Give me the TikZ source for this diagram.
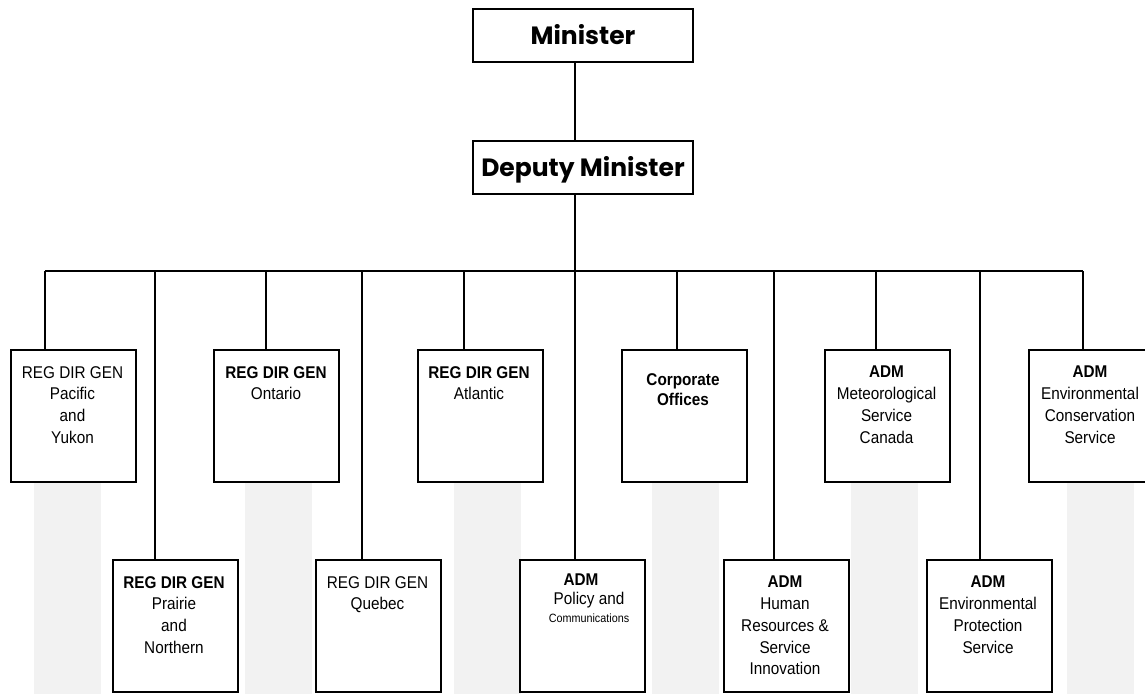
\documentclass[tikz,border=0pt]{standalone}
\usepackage{fontspec}
\setmainfont{Liberation Sans}[FakeStretch=0.9]
\newfontfamily\headfont{Poppins}
\definecolor{shade}{HTML}{F2F2F2}
\begin{document}
\begin{tikzpicture}[x=1pt,y=-1pt,
  box/.style={draw, line width=2pt, fill=white, minimum width=125pt, minimum height=132pt, inner sep=0pt, anchor=north west},
  headbox/.style={draw, line width=2pt, fill=white, minimum width=220pt, minimum height=53pt, inner sep=0pt, anchor=north west,
    font=\headfont\bfseries\fontsize{25}{30}\selectfont, text height=18.2pt, text depth=0pt},
  lbl/.style={anchor=north, inner sep=0pt, align=center, font=\fontsize{17}{21.7}\selectfont},
  conn/.style={line width=1.7pt},
  col/.style={fill=shade, draw=none}]
\useasboundingbox (0,0) rectangle (1145,694);
\clip (0,0) rectangle (1145,694);
% shaded columns
\fill[col] (34,481) rectangle (101,694);
\fill[col] (245,481) rectangle (312,694);
\fill[col] (454,481) rectangle (521,694);
\fill[col] (652,481) rectangle (719,694);
\fill[col] (851,481) rectangle (918,694);
\fill[col] (1067,481) rectangle (1134,694);
% top boxes
\node[headbox] (min) at (472,8) {Minister};
\node[headbox] (dep) at (472,140) {Deputy Minister};
% upper row
\node[box] (pac) at (10,349) {};
\node[box] (ont) at (213,349) {};
\node[box] (atl) at (417,349) {};
\node[box] (cor) at (621,349) {};
\node[box] (met) at (824,349) {};
\node[box] (ecs) at (1028,349) {};
% lower row
\node[box] (pra) at (112,559) {};
\node[box] (que) at (315,559) {};
\node[box] (pol) at (519,559) {};
\node[box] (hum) at (723,559) {};
\node[box] (eps) at (926,559) {};
% texts
\node[lbl] (pac-t) at (72.5,366) {REG DIR GEN\\Pacific\\and\\Yukon};
\node[lbl] (ont-t) at (276,366) {\textbf{REG DIR GEN}\\Ontario};
\node[lbl] (atl-t) at (479,366) {\textbf{REG DIR GEN}\\Atlantic};
\node[lbl, font=\bfseries\fontsize{17}{20}\selectfont] (cor-t) at (683,373.5) {Corporate\\Offices};
\node[lbl] (met-t) at (886.5,366) {\textbf{ADM}\\Meteorological\\Service\\Canada};
\node[lbl] (ecs-t) at (1090,366) {\textbf{ADM}\\Environmental\\Conservation\\Service};
\node[lbl] (pra-t) at (174,576) {\textbf{REG DIR GEN}\\Prairie\\and\\Northern};
\node[lbl] (que-t) at (377.5,576) {REG DIR GEN\\Quebec};
\node[lbl, font=\fontsize{17}{19}\selectfont] (pol-t) at (589,574) {\textbf{ADM}\hspace*{16pt}\\Policy and\\[-1pt]{\fontsize{12}{13}\selectfont Communications}};
\node[lbl] (hum-t) at (785,576) {\textbf{ADM}\\Human\\Resources \&\\Service\\Innovation};
\node[lbl] (eps-t) at (988,576) {\textbf{ADM}\\Environmental\\Protection\\Service};
% bus coordinates
\coordinate (b0) at (575,271);
\coordinate (bL) at (45,271);
\coordinate (bR) at (1083,271);
\coordinate (d1) at (45,271);
\coordinate (d2) at (155,271);
\coordinate (d3) at (266,271);
\coordinate (d4) at (362,271);
\coordinate (d5) at (464,271);
\coordinate (d6) at (575,271);
\coordinate (d7) at (677,271);
\coordinate (d8) at (774,271);
\coordinate (d9) at (876,271);
\coordinate (d10) at (980,271);
\coordinate (d11) at (1083,271);
% connectors
\draw[conn] (b0 |- min.south) -- (b0 |- dep.north);
\draw[conn] (b0 |- dep.south) -- (b0);
\draw[conn] (bL) -- (bR);
\draw[conn] (d1) -- (d1 |- pac.north);
\draw[conn] (d2) -- (d2 |- pra.north);
\draw[conn] (d3) -- (d3 |- ont.north);
\draw[conn] (d4) -- (d4 |- que.north);
\draw[conn] (d5) -- (d5 |- atl.north);
\draw[conn] (d6) -- (d6 |- pol.north);
\draw[conn] (d7) -- (d7 |- cor.north);
\draw[conn] (d8) -- (d8 |- hum.north);
\draw[conn] (d9) -- (d9 |- met.north);
\draw[conn] (d10) -- (d10 |- eps.north);
\draw[conn] (d11) -- (d11 |- ecs.north);
\end{tikzpicture}
\end{document}
